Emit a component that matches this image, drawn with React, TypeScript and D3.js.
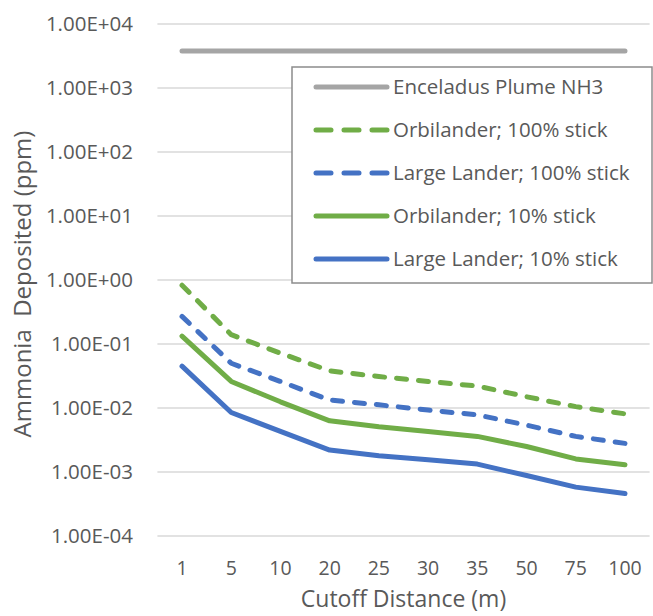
import React from "react";
import * as d3 from "d3";

// ---- Data ----
const categories = ["1", "5", "10", "20", "25", "30", "35", "50", "75", "100"];
const enceladusPlumeNH3 = [3800, 3800, 3800, 3800, 3800, 3800, 3800, 3800, 3800, 3800];
const orbilander100 = [0.83, 0.14, 0.072, 0.038, 0.031, 0.026, 0.022, 0.015, 0.0105, 0.0081];
const largeLander100 = [0.27, 0.05, 0.026, 0.0133, 0.0112, 0.0093, 0.0078, 0.0054, 0.0036, 0.0028];
const orbilander10 = [0.133, 0.026, 0.0125, 0.0063, 0.0051, 0.0043, 0.0036, 0.0025, 0.0016, 0.0013];
const largeLander10 = [0.045, 0.0085, 0.0043, 0.0022, 0.0018, 0.00155, 0.00133, 0.00088, 0.00058, 0.00046];
const seriesNames = [
  "Enceladus Plume NH3",
  "Orbilander; 100% stick",
  "Large Lander; 100% stick",
  "Orbilander; 10% stick",
  "Large Lander; 10% stick",
];
const yTicks = [1e4, 1e3, 1e2, 1e1, 1e0, 1e-1, 1e-2, 1e-3, 1e-4];
const xTitle = "Cutoff Distance (m)";
const yTitle = "Ammonia\u00A0 Deposited (ppm)";

// ---- Styles ----
const seriesValues = [enceladusPlumeNH3, orbilander100, largeLander100, orbilander10, largeLander10];
const seriesStyle = [
  { color: "#A5A5A5", dash: null as string | null },
  { color: "#70AD47", dash: "10 12" },
  { color: "#4472C4", dash: "10 12" },
  { color: "#70AD47", dash: null },
  { color: "#4472C4", dash: null },
];

const W = 653;
const H = 616;
const plot = { left: 157.4, right: 649.6, top: 24, bottom: 536 };
const FONT = "'Open Sans', 'DejaVu Sans', sans-serif";
const TEXT = "#595959";

function fmtExp(v: number) {
  const e = Math.round(Math.log10(v));
  const m = v / Math.pow(10, e);
  return m.toFixed(2) + "E" + (e < 0 ? "-" : "+") + String(Math.abs(e)).padStart(2, "0");
}

export default function App() {
  const xBand = d3.scaleBand<string>().domain(categories).range([plot.left, plot.right]);
  const xc = (c: string) => (xBand(c) as number) + xBand.bandwidth() / 2;
  const y = d3.scaleLog().domain([1e-4, 1e4]).range([plot.bottom, plot.top]);

  const line = d3
    .line<number>()
    .x((_, i) => xc(categories[i]))
    .y((d) => y(d));

  const legend = { x: 292, y: 67, w: 360, h: 216, row0: 87, rowH: 43, sx0: 316, sx1: 387, tx: 393 };

  return (
    <svg
      width={W}
      height={H}
      style={{ position: "absolute", left: 0, top: 0, background: "#fff" }}
      fontFamily={FONT}
    >
      <rect x={0} y={0} width={W} height={H} fill="#fff" />
      {/* gridlines */}
      {yTicks.map((t) => (
        <line
          key={"g" + t}
          x1={plot.left}
          x2={plot.right}
          y1={y(t)}
          y2={y(t)}
          stroke="#D9D9D9"
          strokeWidth={1.5}
        />
      ))}
      {/* y tick labels */}
      {yTicks.map((t) => (
        <text
          key={"yl" + t}
          x={133}
          y={y(t)}
          dy="0.35em"
          textAnchor="end"
          fontSize={20.5}
          fill={TEXT}
        >
          {fmtExp(t)}
        </text>
      ))}
      {/* x tick labels */}
      {categories.map((c) => (
        <text key={"xl" + c} x={xc(c)} y={575} textAnchor="middle" fontSize={19.5} fill={TEXT}>
          {c}
        </text>
      ))}
      {/* axis titles */}
      <text x={(plot.left + plot.right) / 2} y={607} textAnchor="middle" fontSize={23} fill={TEXT}>
        {xTitle}
      </text>
      <text
        transform={`translate(31, 284) rotate(-90)`}
        textAnchor="middle"
        fontSize={24}
        fill={TEXT}
      >
        {yTitle}
      </text>
      {/* series */}
      {seriesValues.map((vals, i) => (
        <path
          key={"s" + i}
          d={line(vals) as string}
          fill="none"
          stroke={seriesStyle[i].color}
          strokeWidth={5}
          strokeDasharray={seriesStyle[i].dash ?? undefined}
          strokeLinecap="round"
          strokeLinejoin="round"
        />
      ))}
      {/* legend */}
      <rect
        x={legend.x}
        y={legend.y}
        width={legend.w}
        height={legend.h}
        fill="#fff"
        stroke="#8C8C8C"
        strokeWidth={1.5}
      />
      {seriesNames.map((name, i) => {
        const ry = legend.row0 + i * legend.rowH;
        return (
          <g key={"lg" + i}>
            <line
              x1={legend.sx0}
              x2={legend.sx1}
              y1={ry}
              y2={ry}
              stroke={seriesStyle[i].color}
              strokeWidth={5}
              strokeDasharray={seriesStyle[i].dash ? "15 13" : undefined}
              strokeLinecap="round"
            />
            <text x={legend.tx} y={ry} dy="0.35em" fontSize={20.5} fill={TEXT}>
              {name}
            </text>
          </g>
        );
      })}
    </svg>
  );
}
